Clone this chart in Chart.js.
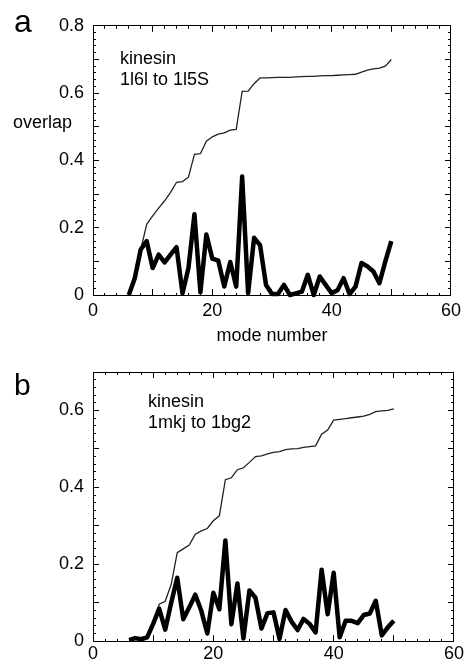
<!DOCTYPE html>
<html>
<head>
<meta charset="utf-8">
<script src="https://cdn.jsdelivr.net/npm/chart.js@4/dist/chart.umd.min.js"></script>
<style>
    body { margin: 0; background: #fff; }
    #wrap { position: relative; width: 472px; height: 667px; font-family: 'Liberation Sans', Arial, sans-serif; color: #000; }
    #wrap canvas { position: absolute; left: 0; }
    .txt { position: absolute; white-space: nowrap; font-size: 18px; line-height: 18px; }
    .panel { position: absolute; line-height: 1; }
    .note { position: absolute; white-space: nowrap; font-size: 18px; line-height: 21px; }
</style>
</head>
<body>
<div id="wrap">
    <canvas id="chart-a" width="472" height="325" style="top:0"></canvas>
    <canvas id="chart-b" width="472" height="337" style="top:330px"></canvas>

    <div class="panel" style="left:14px; top:5px; font-size:32px;">a</div>
    <div class="panel" style="left:14px; top:370px; font-size:30px;">b</div>
    <div class="txt" style="left:13px; top:113px;">overlap</div>
    <div class="txt" style="left:212px; top:326px; width:120px; text-align:center;">mode number</div>
    <div class="note" style="left:120px; top:48px;">kinesin<br>1l6l to 1l5S</div>
    <div class="note" style="left:148px; top:391px;">kinesin<br>1mkj to 1bg2</div>
</div>

<script>
// ----------------------------------------------------------------------
// データ
// ----------------------------------------------------------------------
const modes = [6, 7, 8, 9, 10, 11, 12, 13, 14, 15, 16, 17, 18, 19, 20, 21, 22, 23, 24, 25, 26, 27, 28,
    29, 30, 31, 32, 33, 34, 35, 36, 37, 38, 39, 40, 41, 42, 43, 44, 45, 46, 47, 48, 49, 50];

// パネル a : 1l6l -> 1l5S
const overlapA = [0, 0.05, 0.135, 0.16, 0.08, 0.12, 0.097, 0.12, 0.142, 0.005, 0.08, 0.24, 0.008, 0.18,
    0.108, 0.102, 0.025, 0.098, 0.025, 0.352, 0.005, 0.17, 0.148, 0.03, 0.003, 0.003, 0.03, 0, 0.005,
    0.01, 0.06, 0, 0.055, 0.03, 0.005, 0.015, 0.05, 0.003, 0.025, 0.095, 0.085, 0.07, 0.035, 0.10, 0.16];
const cumulativeA = [0, 0.05, 0.135, 0.21, 0.235, 0.258, 0.28, 0.305, 0.335, 0.337, 0.35, 0.418, 0.42,
    0.457, 0.47, 0.478, 0.482, 0.49, 0.492, 0.605, 0.606, 0.628, 0.645, 0.645, 0.646, 0.647, 0.647,
    0.647, 0.648, 0.649, 0.65, 0.65, 0.651, 0.652, 0.652, 0.653, 0.654, 0.655, 0.656, 0.662, 0.668,
    0.672, 0.674, 0.68, 0.70];

// パネル b : 1mkj -> 1bg2
const overlapB = [0.003, 0.008, 0.005, 0.01, 0.045, 0.085, 0.03, 0.10, 0.165, 0.057, 0.088, 0.121,
    0.079, 0.02, 0.126, 0.083, 0.262, 0.044, 0.15, 0.007, 0.132, 0.113, 0.033, 0.073, 0.075, 0.006,
    0.081, 0.051, 0.029, 0.058, 0.045, 0.023, 0.186, 0.07, 0.178, 0.01, 0.053, 0.053, 0.047, 0.068,
    0.072, 0.105, 0.015, 0.036, 0.053];
const cumulativeB = [0.003, 0.008, 0.01, 0.013, 0.047, 0.096, 0.104, 0.148, 0.23, 0.24, 0.25, 0.278,
    0.287, 0.293, 0.313, 0.326, 0.42, 0.425, 0.446, 0.451, 0.465, 0.48, 0.482, 0.487, 0.491, 0.493,
    0.498, 0.5, 0.501, 0.504, 0.506, 0.508, 0.538, 0.549, 0.575, 0.577, 0.579, 0.581, 0.583, 0.585,
    0.59, 0.597, 0.599, 0.6, 0.604];

// 目盛り (ラベルを見せる間隔)
const xTickLabelStep = 20;
const yTickLabelStep = 0.2;

const FONT = "'Liberation Sans', Arial, sans-serif";

function toPoints(ys) {
    return modes.map((m, i) => ({ x: m, y: ys[i] }));
}

function near(v, step) {
    return Math.abs(v / step - Math.round(v / step)) < 1e-6;
}

/**
 * 内向きの目盛り (主目盛り 6px + 副目盛り 3px) を持つ軸
 * ラベルは全目盛りに付けて、見せないものは透明色にする
 * (callback で空文字を返すと枠線ごと消えたため)
 */
function axis(position, min, max, step, majorStep, opts) {
    const startsInside = position === 'left' || position === 'top';
    const isMajor = (c) => c.tick && near(c.tick.value, majorStep);
    return {
        type: 'linear',
        position: position,
        min: min,
        max: max,
        border: { display: true, color: '#000', width: 1 },
        grid: {
            drawOnChartArea: false,
            drawTicks: true,
            tickLength: -6,
            tickColor: '#000',
            tickWidth: 1,
            tickBorderDash: (c) => isMajor(c) ? [] : [3, 10],
            tickBorderDashOffset: (c) => (!isMajor(c) && startsInside) ? 10 : 0
        },
        ticks: {
            stepSize: step,
            autoSkip: false,
            maxRotation: 0,
            display: opts.labels,
            padding: opts.padding || 0,
            font: { family: FONT, size: 18 },
            format: { minimumFractionDigits: 0, maximumFractionDigits: 1 },
            color: (c) => (c.tick && opts.labelStep && near(c.tick.value, opts.labelStep)) ? '#000' : 'rgba(0,0,0,0)'
        },
        afterFit: (scale) => {
            if (scale.isHorizontal()) scale.height = opts.size;
            else scale.width = opts.size;
        }
    };
}

function makeChart(canvasId, thick, thin, yMax, layout) {
    const canvas = document.getElementById(canvasId);
    return new Chart(canvas, {
        type: 'line',
        data: {
            datasets: [{
                data: toPoints(thick),
                borderColor: '#000',
                borderWidth: 4.5,
                borderJoinStyle: 'round',
                pointRadius: 0,
                tension: 0,
                clip: 6,
                order: 0
            }, {
                data: toPoints(thin),
                borderColor: '#222',
                borderWidth: 1.3,
                pointRadius: 0,
                tension: 0,
                clip: 4,
                order: 1
            }]
        },
        options: {
            responsive: false,
            animation: false,
            devicePixelRatio: 1,
            layout: { padding: layout.padding },
            plugins: { legend: { display: false }, tooltip: { enabled: false } },
            scales: {
                x: axis('bottom', 0, 60, 2, 10,
                    { labels: true, size: layout.xSize, padding: layout.xPad, labelStep: xTickLabelStep }),
                y: axis('left', 0, yMax, 0.02, 0.1,
                    { labels: true, size: 93, padding: 15, labelStep: yTickLabelStep }),
                x2: axis('top', 0, 60, 2, 10, { labels: false, size: 0 }),
                y2: axis('right', 0, yMax, 0.02, 0.1, { labels: false, size: 0 })
            }
        }
    });
}

makeChart('chart-a', overlapA, cumulativeA, 0.8,
    { padding: { top: 24, right: 20, left: 0, bottom: 0 }, xSize: 30, xPad: 11 });
makeChart('chart-b', overlapB, cumulativeB, 0.7,
    { padding: { top: 42, right: 11, left: 0, bottom: 0 }, xSize: 23, xPad: 8 });
</script>
</body>
</html>
